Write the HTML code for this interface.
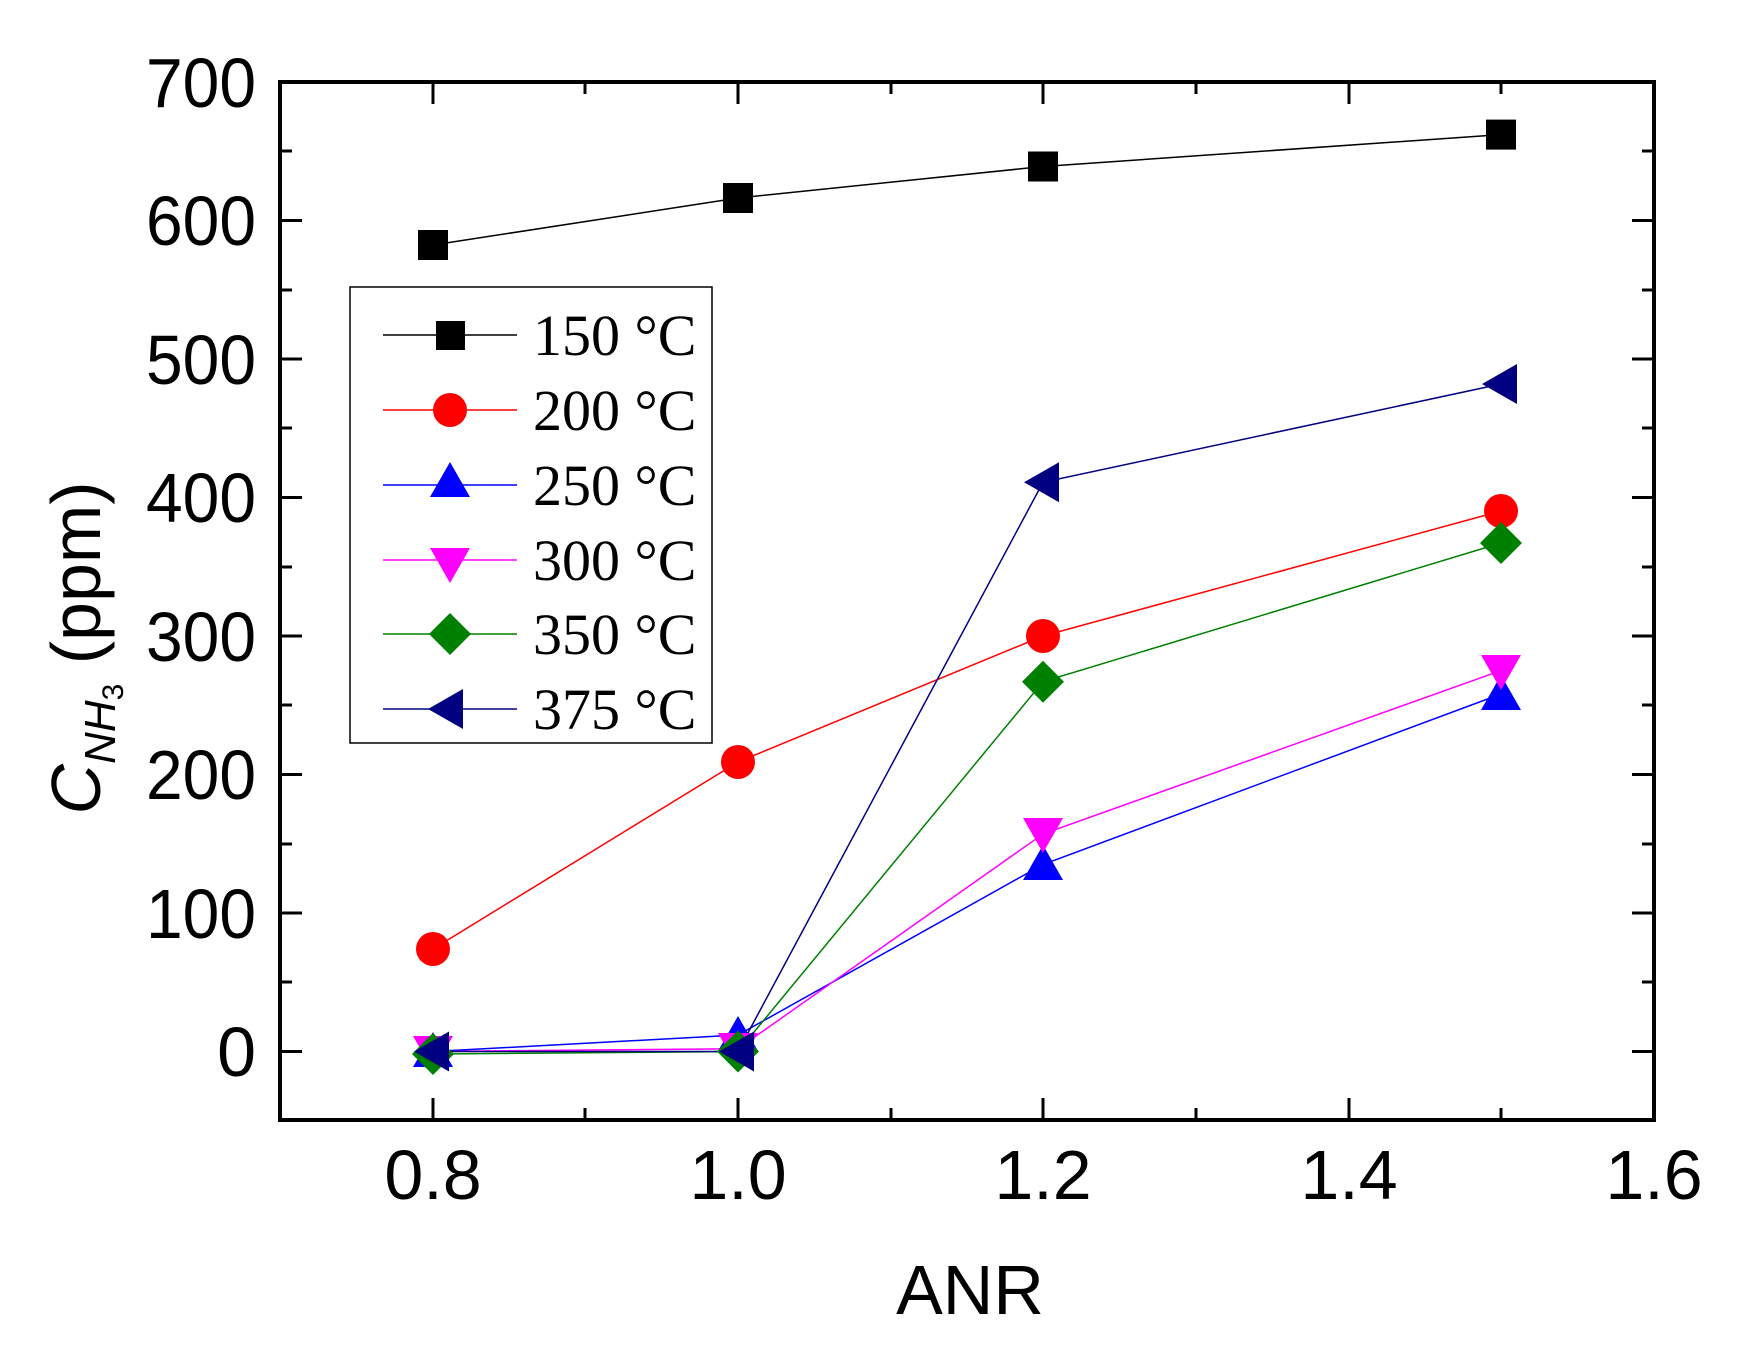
<!DOCTYPE html>
<html><head><meta charset="utf-8"><style>html,body{margin:0;padding:0;background:#fff}svg{display:block}</style></head>
<body>
<svg width="1752" height="1350" viewBox="0 0 1752 1350" xmlns="http://www.w3.org/2000/svg">
<rect width="1752" height="1350" fill="#fff"/>
<g stroke="#000" stroke-width="3" fill="none">
<rect x="280" y="82" width="1374" height="1038" stroke-width="4"/>
<path d="M433,1120v-22M585,1120v-12M738,1120v-22M891,1120v-12M1043,1120v-22M1196,1120v-12M1349,1120v-22M1501,1120v-12
M433,82v22M585,82v12M738,82v22M891,82v12M1043,82v22M1196,82v12M1349,82v22M1501,82v12"/>
<path d="M280,1051.5h22M280,913h22M280,774.5h22M280,636h22M280,497.5h22M280,359h22M280,220.5h22
M280,982h12M280,844h12M280,705h12M280,567h12M280,428h12M280,290h12M280,151h12
M1654,1051.5h-22M1654,913h-22M1654,774.5h-22M1654,636h-22M1654,497.5h-22M1654,359h-22M1654,220.5h-22
M1654,982h-12M1654,844h-12M1654,705h-12M1654,567h-12M1654,428h-12M1654,290h-12M1654,151h-12"/>
</g>
<g font-family="Liberation Sans, sans-serif" font-size="70" fill="#000">
<g text-anchor="end">
<text x="256" y="1076">0</text><text x="256" y="938" textLength="110" lengthAdjust="spacingAndGlyphs">100</text><text x="256" y="799" textLength="110" lengthAdjust="spacingAndGlyphs">200</text>
<text x="256" y="661" textLength="110" lengthAdjust="spacingAndGlyphs">300</text><text x="256" y="522" textLength="110" lengthAdjust="spacingAndGlyphs">400</text><text x="256" y="384" textLength="110" lengthAdjust="spacingAndGlyphs">500</text>
<text x="256" y="245" textLength="110" lengthAdjust="spacingAndGlyphs">600</text><text x="256" y="107" textLength="110" lengthAdjust="spacingAndGlyphs">700</text>
</g>
<g text-anchor="middle">
<text x="433" y="1199">0.8</text><text x="738" y="1199">1.0</text><text x="1043" y="1199">1.2</text>
<text x="1349" y="1199">1.4</text><text x="1654" y="1199">1.6</text>
<text x="970" y="1314" font-size="70">ANR</text>
</g>
<text transform="translate(100,648) rotate(-90)" text-anchor="middle" font-size="70"><tspan font-style="italic">C</tspan><tspan font-style="italic" font-size="44" dy="15">NH</tspan><tspan font-size="30" dy="8">3</tspan><tspan dy="-23"> (ppm)</tspan></text>
</g>
<g fill="none" stroke-width="1.5">
<polyline stroke="#000" points="433,245 738,198 1043,166.5 1501,134.6"/>
<polyline stroke="#f00" points="433,949 738,762 1043,636 1501,511"/>
<polyline stroke="#00f" points="433,1051.5 738,1035 1043,864.5 1501,694"/>
<polyline stroke="#f0f" points="433,1051.5 738,1048.7 1043,834 1501,670.6"/>
<polyline stroke="#008000" points="433,1054 738,1051.5 1043,681.7 1501,543"/>
<polyline stroke="#000080" points="433,1051.5 738,1051.5 1043,482.3 1501,384"/>
</g>
<g fill="#000"><rect x="418" y="230" width="30" height="30"/><rect x="723" y="183" width="30" height="30"/><rect x="1028" y="151.5" width="30" height="30"/><rect x="1486" y="119.6" width="30" height="30"/></g>
<g fill="#f00"><circle cx="433" cy="949" r="17"/><circle cx="738" cy="762" r="17"/><circle cx="1043" cy="636" r="17"/><circle cx="1501" cy="511" r="17"/></g>
<g fill="#00f"><path d="M433,1032l-20,35h40z M738,1016l-20,35h40z M1043,845l-20,35h40z M1501,675l-20,35h40z"/></g>
<g fill="#f0f"><path d="M433,1071l-20,-35h40z M738,1068l-20,-35h40z M1043,853l-20,-35h40z M1501,690l-20,-35h40z"/></g>
<g fill="#008000"><path d="M433,1033l21,21l-21,21l-21,-21z M738,1030.5l21,21l-21,21l-21,-21z M1043,660.7l21,21l-21,21l-21,-21z M1501,522l21,21l-21,21l-21,-21z"/></g>
<g fill="#000080"><path d="M414,1051.5l35,-20v40z M719,1051.5l35,-20v40z M1024,482.3l35,-20v40z M1482,384l35,-20v40z"/></g>
<rect x="350" y="287" width="362" height="456" fill="#fff" stroke="#000" stroke-width="1.5"/>
<g stroke-width="1.5">
<line x1="383" y1="335" x2="517" y2="335" stroke="#000"/>
<line x1="383" y1="410" x2="517" y2="410" stroke="#f00"/>
<line x1="383" y1="485" x2="517" y2="485" stroke="#00f"/>
<line x1="383" y1="560" x2="517" y2="560" stroke="#f0f"/>
<line x1="383" y1="634" x2="517" y2="634" stroke="#008000"/>
<line x1="383" y1="709" x2="517" y2="709" stroke="#000080"/>
</g>
<rect x="436" y="321" width="29" height="29" fill="#000"/>
<circle cx="450" cy="410" r="17" fill="#f00"/>
<path d="M450,462l-20,35h40z" fill="#00f"/>
<path d="M450,583l-20,-35h40z" fill="#f0f"/>
<path d="M450,613l21,21l-21,21l-21,-21z" fill="#008000"/>
<path d="M428,709l35,-20v40z" fill="#000080"/>
<g font-family="Liberation Serif, serif" font-size="58" fill="#000">
<text x="533" y="355">150 °C</text><text x="533" y="430">200 °C</text><text x="533" y="505">250 °C</text>
<text x="533" y="580">300 °C</text><text x="533" y="654">350 °C</text><text x="533" y="729">375 °C</text>
</g>
</svg>
</body></html>
